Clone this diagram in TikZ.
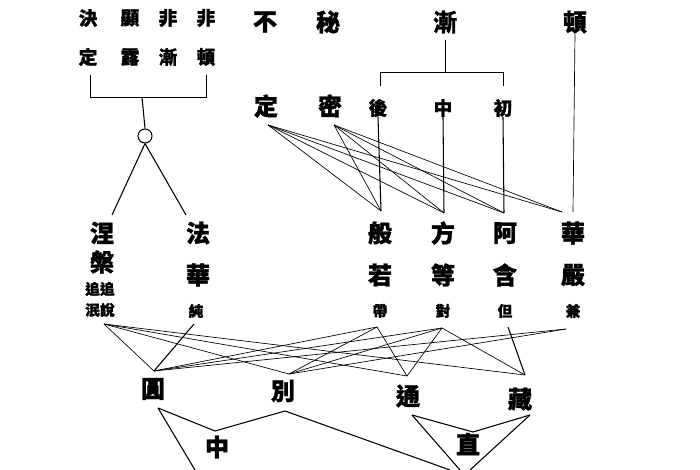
\documentclass[tikz,border=0pt]{standalone}
\usepackage{fontspec}
\newfontfamily\cjk[FakeBold=1.2]{Noto Sans CJK TC}
\tikzset{
  big/.style={font=\cjk\bfseries\fontsize{18}{18}\selectfont, inner sep=0pt},
  mid/.style={font=\cjk\bfseries\fontsize{14}{14}\selectfont, inner sep=0pt},
  small/.style={font=\cjk\bfseries\fontsize{11}{11}\selectfont, inner sep=0pt},
  ln/.style={line width=0.8pt},
  thin/.style={line width=0.5pt}
}
\begin{document}
\begin{tikzpicture}[x=0.75pt,y=-0.75pt]
    \useasboundingbox (0,0) rectangle (700,470);

    % top left block
    \node[mid] (jue) at (88,18) {決};
    \node[mid] (xian) at (130,18) {顯};
    \node[mid] (fei1) at (168,18) {非};
    \node[mid] (fei2) at (206,18) {非};
    \node[mid] (ding1) at (88,57) {定};
    \node[mid] (lu) at (130,57) {露};
    \node[mid] (jian1) at (168,57) {漸};
    \node[mid] (dun1) at (206,57) {頓};
    \coordinate (bl) at (90,97);
    \coordinate (br) at (206,97);
    \coordinate (bm) at (142,97);
    \draw[thin] (90,75) -- (bl) -- (br) -- (206,75);
    \node[draw, circle, ln, minimum size=10.5pt, inner sep=0pt] (o) at (145,136) {};
    \draw[ln] (bm) -- (o.north);

    % top right
    \node[big] (bu) at (265,22) {不};
    \node[big] (mi1) at (328,22) {秘};
    \node[big] (jian) at (445,22) {漸};
    \node[big] (dun) at (575,22) {頓};
    \node[big] (ding) at (266,106) {定};
    \node[big] (mi) at (330,106) {密};
    \node[mid] (hou) at (378,108) {後};
    \node[mid] (zhong1) at (443,108) {中};
    \node[mid] (chu) at (503,108) {初};
    \draw[thin] (445,40) -- (445,72);
    \draw[thin] (380,86) -- (380,72) -- (503,72) -- (503,86);

    % five periods
    \node[big] (nie) at (102,233) {涅};
    \node[big] (pan) at (102,262) {槃};
    \node[small] (zz) at (100,289) {追追};
    \node[small] (ms) at (100,310) {泯說};
    \node[big] (fa) at (198,233) {法};
    \node[big] (hua1) at (198,275) {華};
    \node[small] (chun) at (196,311) {純};
    \node[big] (ban) at (380,233) {般};
    \node[big] (ruo) at (380,275) {若};
    \node[small] (dai) at (380,311) {帶};
    \node[big] (fang) at (443,233) {方};
    \node[big] (deng) at (443,275) {等};
    \node[small] (dui) at (443,311) {對};
    \node[big] (a) at (505,233) {阿};
    \node[big] (han) at (505,275) {含};
    \node[small] (dan) at (505,311) {但};
    \node[big] (hua) at (573,233) {華};
    \node[big] (yan) at (573,275) {嚴};
    \node[small] (jian2) at (573,311) {兼};

    \draw[ln] (o.south) -- (112,215);
    \draw[ln] (o.south) -- (186,215);

    % lines to the four sutras
    \coordinate (pd) at (268,125);
    \coordinate (pm) at (334,125);
    \coordinate (tban) at (381,211);
    \coordinate (tfang) at (444,213);
    \coordinate (ta) at (504,213);
    \coordinate (thua) at (562,212);
    \foreach \t in {tban,tfang,ta,thua}{
        \draw[thin] (pd) -- (\t);
        \draw[thin] (pm) -- (\t);
    }
    \draw[ln] (hou.south) -- (tban);
    \draw[ln] (zhong1.south) -- (tfang);
    \draw[ln] (chu.south) -- (ta);
    \draw[thin] (dun.south) -- (573,212);

    % four teachings
    \node[big] (yuan) at (153,389) {圓};
    \node[big] (bie) at (283,391) {別};
    \node[big] (tong) at (408,396) {通};
    \node[big] (zang) at (520,399) {藏};
    \node[big] (zhong) at (217,447) {中};
    \node[big] (zhi) at (468,444) {直};
    \coordinate (tyuan) at (154,371);
    \coordinate (tbie) at (289,374);
    \coordinate (ttong) at (407,376);
    \coordinate (tzang) at (525,375);
    \coordinate (snie) at (104,324);
    \coordinate (schun) at (194,324);
    \coordinate (sdai) at (377,327);
    \coordinate (sdui) at (442,328);
    \coordinate (sdan) at (508,327);
    \coordinate (sjian) at (566,329);
    \foreach \t in {tyuan,tbie,ttong,tzang}
        \draw[thin] (snie) -- (\t);
    \draw[ln] (schun) -- (tyuan);
    \foreach \t in {tyuan,tbie,ttong}
        \draw[thin] (sdai) -- (\t);
    \foreach \t in {tyuan,tbie,ttong,tzang}
        \draw[thin] (sdui) -- (\t);
    \draw[ln] (sdan) -- (tzang);
    \foreach \t in {tyuan,tbie}
        \draw[thin] (sjian) -- (\t);

    % bottom
    \coordinate (byuan) at (158,408);
    \coordinate (bbie) at (285,411);
    \coordinate (btong) at (412,415);
    \coordinate (bzang) at (530,415);
    \draw[ln] (byuan) -- (215,431) -- (bbie);
    \draw[ln] (byuan) -- (195,470);
    \draw[ln] (bbie) -- (450,470);
    \draw[ln] (btong) -- (473,432) -- (bzang);
    \draw[ln] (btong) -- (460,470);
    \draw[ln] (bzang) -- (470,470);
\end{tikzpicture}
\end{document}
